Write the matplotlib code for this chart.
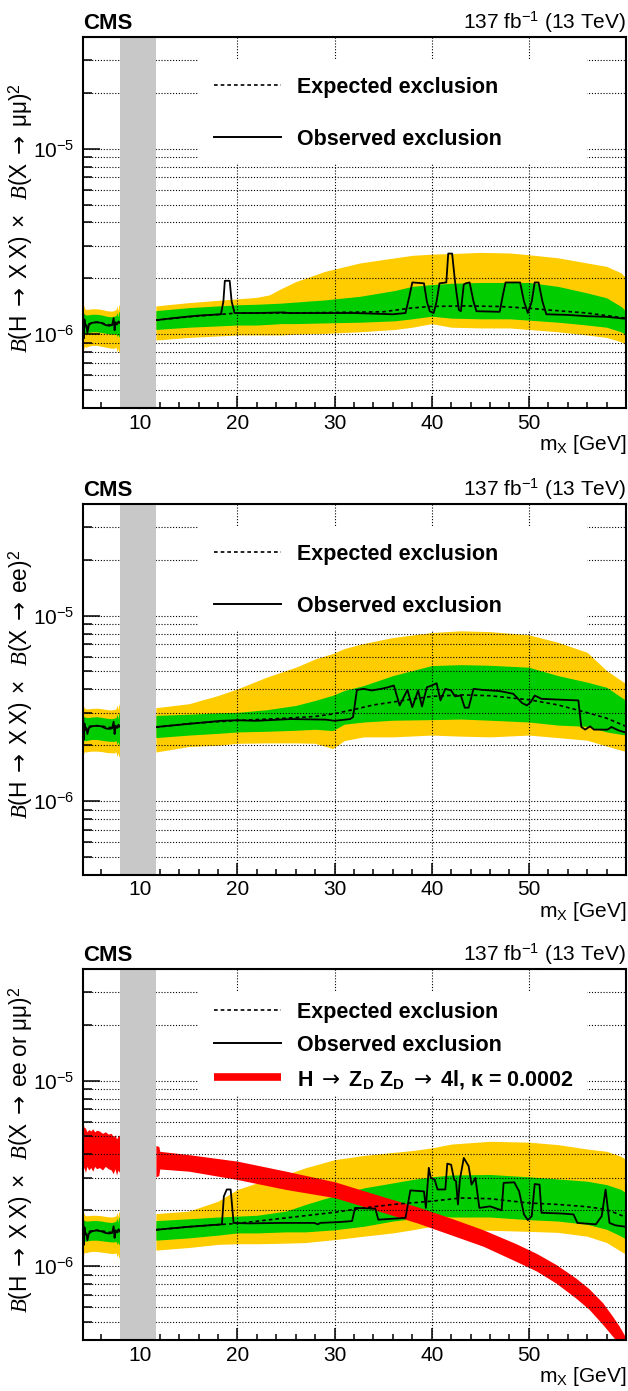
import numpy as np
import matplotlib
matplotlib.use("Agg")
import matplotlib.pyplot as plt
from matplotlib.patches import Rectangle
from matplotlib.ticker import FixedLocator, MultipleLocator, LogLocator, NullFormatter

plt.rcParams["font.family"] = ["Liberation Sans", "DejaVu Sans"]
plt.rcParams["mathtext.fontset"] = "custom"
plt.rcParams["mathtext.rm"] = "Liberation Sans"
plt.rcParams["mathtext.it"] = "Liberation Serif:italic"
plt.rcParams["mathtext.bf"] = "Liberation Sans:bold"
plt.rcParams["mathtext.sf"] = "DejaVu Sans"

# all limits below are in units of 1e-6
UNIT = 1e-6

# ---- low-mass segment (left of the excluded window), shared mass grid ----
xl = [4.07, 4.15, 4.25, 4.4, 4.6, 5.0, 5.5, 6.0, 6.5, 7.0, 7.3, 7.5, 7.6, 7.7, 7.8, 7.9]
xl_obs = [4.07, 4.12, 4.18, 4.25, 4.32, 4.45, 4.55, 4.7, 5.0, 5.5, 6.0, 6.4, 6.8,
          7.1, 7.25, 7.35, 7.45, 7.6, 7.75, 7.9]

# ---- X -> mumu ----
mm_l_y2up = [1.62, 1.45, 1.38, 1.36, 1.36, 1.37, 1.37, 1.36, 1.34, 1.33, 1.34, 1.36, 1.42, 1.33, 1.45, 1.40]
mm_l_y1up = [1.45, 1.30, 1.28, 1.27, 1.27, 1.28, 1.28, 1.27, 1.25, 1.24, 1.25, 1.26, 1.31, 1.24, 1.33, 1.30]
mm_l_y1dn = [0.93, 1.00, 1.02, 1.01, 1.02, 1.03, 1.03, 1.02, 1.01, 1.00, 1.00, 1.01, 0.97, 1.00, 0.96, 1.00]
mm_l_y2dn = [0.74, 0.82, 0.86, 0.85, 0.86, 0.87, 0.87, 0.86, 0.85, 0.84, 0.84, 0.85, 0.80, 0.84, 0.79, 0.83]
mm_l_exp = [1.14, 1.15, 1.13, 1.13, 1.13, 1.15, 1.16, 1.15, 1.13, 1.12, 1.12, 1.13, 1.14, 1.13, 1.15, 1.15]
mm_l_obs = [1.10, 1.28, 0.95, 1.20, 1.10, 1.12, 1.02, 1.12, 1.15, 1.16, 1.15, 1.12, 1.11,
            1.12, 1.22, 1.05, 1.16, 1.13, 1.17, 1.15]

mm_bx = [11.6, 15, 20, 22, 23.3, 24.5, 26, 29, 32.6, 36.2, 38, 40, 42, 45, 48, 50, 53, 56, 58, 59.5, 60]
mm_y2up = [1.42, 1.48, 1.55, 1.58, 1.63, 1.76, 1.92, 2.18, 2.42, 2.58, 2.66, 2.70, 2.72, 2.76, 2.74,
           2.68, 2.58, 2.42, 2.32, 2.14, 2.01]
mm_y1up = [1.34, 1.39, 1.44, 1.45, 1.46, 1.47, 1.49, 1.53, 1.60, 1.72, 1.81, 1.85, 1.88, 1.90, 1.90,
           1.90, 1.81, 1.67, 1.57, 1.41, 1.33]
mm_y1dn = [1.06, 1.09, 1.12, 1.12, 1.13, 1.14, 1.14, 1.15, 1.16, 1.18, 1.21, 1.25, 1.22, 1.21, 1.21,
           1.19, 1.16, 1.12, 1.09, 1.03, 0.99]
mm_y2dn = [0.93, 0.96, 0.99, 0.99, 0.99, 0.99, 1.00, 1.01, 1.03, 1.06, 1.09, 1.14, 1.09, 1.08, 1.08,
           1.06, 1.03, 0.99, 0.96, 0.91, 0.875]
mm_exp_x = [11.6, 15, 20, 25, 30, 35, 37.7, 39.8, 43.4, 47, 50, 52, 56, 60]
mm_exp_y = [1.19, 1.24, 1.30, 1.30, 1.31, 1.32, 1.38, 1.41, 1.42, 1.41, 1.38, 1.35, 1.30, 1.22]
mm_obs_x = [11.6, 14, 16, 18.3, 18.55, 18.7, 19.2, 19.4, 19.7, 22, 24.8, 25.2, 28, 32, 36,
            37.3, 37.7, 38.0, 39.2, 39.5, 39.8, 40.2, 40.5, 40.8, 41.5, 41.7, 42.1, 42.4,
            42.6, 42.8, 43.0, 43.3, 43.5, 43.9, 44.3, 44.6, 47.0, 47.3, 47.6, 49.1, 49.5,
            49.9, 50.3, 50.6, 51.0, 51.4, 51.8, 54, 56, 58, 60]
mm_obs_y = [1.19, 1.23, 1.26, 1.28, 1.50, 1.94, 1.94, 1.50, 1.30, 1.30, 1.31, 1.30, 1.30, 1.30, 1.28,
            1.30, 1.60, 1.90, 1.88, 1.50, 1.33, 1.30, 1.50, 1.88, 1.90, 2.72, 2.72, 1.92,
            1.60, 1.35, 1.33, 1.85, 1.88, 1.90, 1.50, 1.33, 1.32, 1.60, 1.90, 1.90, 1.50,
            1.30, 1.50, 1.90, 1.90, 1.50, 1.28, 1.27, 1.25, 1.24, 1.21]

# ---- X -> ee ----
ee_l_y2up = [3.55, 3.25, 3.17, 3.15, 3.14, 3.16, 3.17, 3.15, 3.12, 3.10, 3.12, 3.15, 3.30, 3.12, 3.35, 3.22]
ee_l_y1up = [3.15, 2.88, 2.84, 2.83, 2.82, 2.84, 2.85, 2.83, 2.80, 2.78, 2.80, 2.82, 2.95, 2.78, 3.00, 2.90]
ee_l_y1dn = [1.98, 2.10, 2.13, 2.12, 2.13, 2.15, 2.15, 2.13, 2.11, 2.10, 2.10, 2.12, 2.02, 2.10, 2.00, 2.08]
ee_l_y2dn = [1.62, 1.80, 1.85, 1.84, 1.85, 1.86, 1.86, 1.85, 1.83, 1.82, 1.82, 1.84, 1.74, 1.82, 1.72, 1.80]
ee_l_exp = [2.52, 2.54, 2.51, 2.51, 2.52, 2.54, 2.55, 2.54, 2.51, 2.49, 2.49, 2.50, 2.52, 2.50, 2.53, 2.53]
ee_l_obs = [2.45, 2.80, 2.15, 2.62, 2.42, 2.48, 2.30, 2.48, 2.53, 2.55, 2.53, 2.47, 2.45,
            2.47, 2.68, 2.30, 2.55, 2.48, 2.58, 2.52]

ee_bx = [11.6, 15, 18, 20, 23, 26, 28, 29.8, 31, 33, 36, 40, 43, 46, 50, 53, 56, 58, 60]
ee_y2up = [3.19, 3.35, 3.71, 4.03, 4.66, 5.27, 5.84, 6.25, 6.65, 7.08, 7.62, 8.11, 8.28, 8.20, 7.88, 7.18, 6.34, 5.06, 4.29]
ee_y1up = [2.90, 2.94, 2.99, 3.01, 3.11, 3.28, 3.49, 3.72, 3.95, 4.20, 4.75, 5.38, 5.44, 5.40, 5.27, 4.75, 4.38, 4.11, 3.49]
ee_y1dn = [2.20, 2.27, 2.32, 2.36, 2.38, 2.41, 2.44, 2.40, 2.60, 2.67, 2.73, 2.75, 2.77, 2.73, 2.67, 2.57, 2.53, 2.36, 2.27]
ee_y2dn = [1.84, 1.97, 2.00, 2.05, 2.06, 2.06, 2.05, 1.92, 2.12, 2.22, 2.22, 2.27, 2.24, 2.22, 2.27, 2.20, 2.13, 1.98, 1.85]
ee_exp_x = [11.6, 15, 20, 25, 28, 30, 32, 34, 36, 38, 40, 43, 46, 50, 53, 56, 58, 60]
ee_exp_y = [2.50, 2.62, 2.72, 2.80, 2.86, 2.96, 3.12, 3.30, 3.42, 3.55, 3.67, 3.74, 3.70, 3.52, 3.30, 3.00, 2.80, 2.53]
ee_obs_x = [11.6, 14.7, 18.3, 20.0, 21.9, 25.5, 29.1, 30.0, 31.6, 31.9, 32.3, 33.0, 33.8,
            34.8, 35.5, 36.1, 36.7, 37.5, 38.0, 38.6, 39.0, 39.5, 40.0, 40.5, 40.9, 41.4,
            42.0, 42.4, 43.0, 43.4, 43.8, 44.3, 45.2, 47.0, 48.4, 49.3, 49.8, 50.2, 50.6,
            51.3, 53.4, 55.1, 55.4, 55.8, 56.3, 56.7, 58.1, 58.5, 59.2, 60.0]
ee_obs_y = [2.51, 2.60, 2.71, 2.73, 2.71, 2.77, 2.75, 2.71, 2.77, 2.84, 3.98, 4.03, 3.95,
            4.03, 4.11, 4.20, 3.28, 3.98, 3.21, 3.95, 3.24, 4.11, 4.20, 4.32, 3.49, 4.03,
            3.95, 3.67, 3.71, 3.19, 3.19, 4.03, 3.98, 3.92, 3.79, 3.38, 3.28, 3.42, 3.71,
            3.56, 3.52, 3.49, 2.51, 2.43, 2.53, 2.43, 2.43, 2.51, 2.41, 2.34]

# ---- X -> ee or mumu (combined) ----
cb_l_y2up = [2.15, 1.95, 1.89, 1.87, 1.87, 1.88, 1.88, 1.87, 1.85, 1.84, 1.85, 1.87, 1.95, 1.84, 1.98, 1.92]
cb_l_y1up = [1.95, 1.78, 1.76, 1.75, 1.75, 1.76, 1.76, 1.75, 1.73, 1.72, 1.73, 1.75, 1.82, 1.72, 1.85, 1.79]
cb_l_y1dn = [1.28, 1.35, 1.37, 1.36, 1.37, 1.38, 1.38, 1.37, 1.36, 1.35, 1.35, 1.36, 1.31, 1.35, 1.30, 1.35]
cb_l_y2dn = [1.05, 1.15, 1.19, 1.18, 1.19, 1.20, 1.20, 1.19, 1.18, 1.17, 1.17, 1.18, 1.12, 1.17, 1.10, 1.16]
cb_l_exp = [1.54, 1.55, 1.53, 1.53, 1.53, 1.55, 1.56, 1.55, 1.53, 1.52, 1.52, 1.53, 1.54, 1.53, 1.55, 1.55]
cb_l_obs = [1.50, 1.75, 1.30, 1.62, 1.48, 1.50, 1.38, 1.50, 1.54, 1.56, 1.54, 1.51, 1.50,
            1.51, 1.64, 1.42, 1.56, 1.52, 1.58, 1.54]

cb_bx = [11.6, 15, 18, 20, 22, 25, 27, 30, 33, 36, 38, 40, 42, 46, 50, 53, 56, 58, 59.5, 60]
cb_y2up = [1.92, 1.98, 2.24, 2.59, 2.81, 3.12, 3.39, 3.75, 3.95, 4.10, 4.20, 4.34, 4.55, 4.71, 4.66, 4.52, 4.28, 4.16, 3.91, 3.75]
cb_y1up = [1.76, 1.80, 1.84, 1.86, 1.88, 1.98, 2.15, 2.40, 2.64, 2.81, 2.93, 3.03, 3.10, 3.12, 3.03, 2.95, 2.87, 2.75, 2.59, 2.48]
cb_y1dn = [1.38, 1.42, 1.47, 1.51, 1.51, 1.53, 1.53, 1.57, 1.64, 1.75, 1.80, 1.90, 1.84, 1.84, 1.78, 1.75, 1.68, 1.58, 1.45, 1.40]
cb_y2dn = [1.22, 1.26, 1.31, 1.32, 1.32, 1.33, 1.34, 1.39, 1.45, 1.51, 1.57, 1.64, 1.58, 1.56, 1.54, 1.52, 1.45, 1.34, 1.20, 1.16]
cb_exp_x = [11.6, 15, 20, 25, 30, 33, 36, 40, 43, 46, 50, 53, 56, 58, 59.5, 60]
cb_exp_y = [1.57, 1.63, 1.70, 1.82, 1.95, 2.06, 2.15, 2.24, 2.33, 2.31, 2.19, 2.15, 2.09, 2.02, 1.88, 1.82]
cb_obs_x = [11.6, 15.0, 18.4, 18.6, 18.9, 19.3, 19.6, 21.1, 24.5, 27.9, 28.3, 28.5, 30.6,
            31.8, 32.1, 34.2, 34.5, 37.3, 37.8, 39.2, 39.4, 39.7, 39.9, 40.3, 40.6, 41.4,
            41.6, 42.0, 42.3, 42.5, 42.7, 42.9, 43.3, 43.8, 44.1, 44.5, 44.9, 46.0, 47.2,
            47.4, 48.5, 49.0, 49.5, 49.9, 50.3, 50.6, 51.1, 51.3, 53.5, 54.6, 55.0, 56.9,
            57.5, 57.9, 58.3, 58.9, 60.0]
cb_obs_y = [1.57, 1.63, 1.68, 2.38, 2.59, 2.59, 1.71, 1.70, 1.71, 1.71, 1.68, 1.71, 1.73,
            1.75, 2.06, 2.04, 1.78, 1.82, 2.56, 2.53, 2.06, 3.39, 2.99, 2.93, 2.59, 2.59,
            3.57, 3.52, 2.93, 2.87, 2.15, 2.93, 3.83, 3.46, 2.75, 2.99, 2.06, 2.10, 2.00,
            2.81, 2.83, 2.53, 1.90, 1.77, 1.86, 2.77, 2.75, 1.94, 1.92, 1.90, 1.71, 1.68,
            1.86, 2.59, 1.71, 1.66, 1.63]

# ---- H -> ZD ZD -> 4l prediction, kappa = 0.0002 ----
zd_lx = [4.05, 4.1, 4.2, 4.35, 4.5, 4.7, 4.9, 5.1, 5.3, 5.5, 5.8, 6.1, 6.4, 6.7, 7.0,
         7.2, 7.4, 7.55, 7.7, 7.8, 7.9]
zd_l_up = [6.3, 6.0, 5.6, 5.55, 5.3, 5.45, 5.35, 5.5, 5.3, 5.4, 5.35, 5.2, 5.3, 5.15, 5.2,
           5.0, 5.1, 4.85, 5.0, 5.1, 4.95]
zd_l_dn = [2.95, 3.3, 3.4, 3.2, 3.45, 3.3, 3.4, 3.25, 3.45, 3.35, 3.4, 3.3, 3.45, 3.35, 3.3,
           3.15, 3.35, 3.1, 3.3, 3.2, 3.35]
zd_x = [11.6, 11.9, 12.0, 15, 20, 25, 30, 35.1, 38.5, 41.9, 45.3, 48.7, 50.8, 52.8, 54.8,
        56.2, 57.6, 58.6, 59.3, 60]
zd_up = [4.47, 4.42, 4.16, 3.99, 3.68, 3.25, 2.85, 2.36, 2.09, 1.82, 1.57, 1.32, 1.17, 1.02,
         0.865, 0.755, 0.635, 0.538, 0.475, 0.41]
zd_dn = [3.03, 3.08, 3.34, 3.25, 2.93, 2.59, 2.34, 1.94, 1.71, 1.48, 1.28, 1.06, 0.94, 0.81,
         0.675, 0.585, 0.485, 0.42, 0.38, 0.33]

veto = (7.9, 11.6)

YELLOW = "#ffcc00"
GREEN = "#00cc00"
GREY = "#c8c8c8"
RED = "#ff0000"
FS = 15
ARROW = r"\mathsf{\rightarrow}"


def u(v):
    return np.asarray(v) * UNIT


def ylabel_for(final_state):
    return (r"$\mathit{B}(\mathrm{H}\ " + ARROW + r"\ \mathrm{X\ X})\ \times\ \ "
            r"\mathit{B}(\mathrm{X}\ " + ARROW + r"\ \mathrm{" + final_state + r"})^{2}$")


def draw_panel(ax, left, right, ylabel, zd=None):
    l2u, l1u, l1d, l2d, lexp, lobs = left
    bx, y2u, y1u, y1d, y2d, ex, ey, ox, oy = right

    ax.fill_between(xl, u(l2d), u(l2u), color=YELLOW, lw=0, zorder=1)
    ax.fill_between(xl, u(l1d), u(l1u), color=GREEN, lw=0, zorder=1.1)
    ax.fill_between(bx, u(y2d), u(y2u), color=YELLOW, lw=0, zorder=1)
    ax.fill_between(bx, u(y1d), u(y1u), color=GREEN, lw=0, zorder=1.1)
    if zd is not None:
        ax.fill_between(zd_lx, u(zd_l_dn), u(zd_l_up), color=RED, lw=0, zorder=1.5)
        ax.fill_between(zd_x, u(zd_dn), u(zd_up), color=RED, lw=0, zorder=1.5)

    dash = dict(color="black", lw=1.2, dashes=(2.2, 1.8), zorder=2.6)
    solid = dict(color="black", lw=1.3, zorder=2.7)
    ax.plot(xl, u(lexp), **dash)
    ax.plot(ex, u(ey), **dash)
    ax.plot(xl_obs, u(lobs), **solid)
    ax.plot(ox, u(oy), **solid)

    ax.axvspan(*veto, color=GREY, lw=0, zorder=3)

    ax.set_yscale("log")
    ax.set_xlim(4.1, 60)
    ax.set_ylim(4e-7, 4e-5)
    ax.xaxis.set_major_locator(FixedLocator([10, 20, 30, 40, 50]))
    ax.xaxis.set_minor_locator(MultipleLocator(2))
    ax.yaxis.set_major_locator(LogLocator(base=10))
    ax.yaxis.set_minor_locator(LogLocator(base=10, subs=np.arange(2, 10)))
    ax.yaxis.set_minor_formatter(NullFormatter())

    ax.set_axisbelow(False)
    grid = dict(color="black", lw=0.8, linestyle=(0, (1, 1.6)))
    ax.grid(True, axis="x", which="major", **grid)
    ax.grid(True, axis="y", which="both", **grid)

    ax.tick_params(which="both", direction="in", top=False, right=False,
                   width=1.1, labelsize=FS)
    ax.tick_params(axis="x", which="major", length=9, pad=4)
    ax.tick_params(axis="x", which="minor", length=4.5)
    ax.tick_params(axis="y", which="major", length=12, pad=6)
    ax.tick_params(axis="y", which="minor", length=6.5)
    for sp in ax.spines.values():
        sp.set_linewidth(1.5)
        sp.set_zorder(6)

    ax.set_ylabel(ylabel, fontsize=16.3)
    ax.yaxis.set_label_coords(-0.088, 0.513)
    ax.set_xlabel(r"m$_{\mathrm{X}}$ [GeV]", fontsize=FS, ha="right", va="baseline")
    ax.xaxis.set_label_coords(1.0, -0.113)

    ax.text(0.0, 1.022, "CMS", transform=ax.transAxes, fontsize=16,
            fontweight="bold", ha="left", va="baseline")
    ax.text(1.0, 1.022, r"137 fb$^{\mathrm{-1}}$ (13 TeV)", transform=ax.transAxes,
            fontsize=FS, ha="right", va="baseline")

    # legend area: white box hiding the grid
    ax.add_patch(Rectangle((0.2136, 0.66), 0.7144, 0.28, transform=ax.transAxes,
                           facecolor="white", edgecolor="none", zorder=4))
    if zd is None:
        rows = [(0.871, "exp"), (0.7305, "obs")]
    else:
        rows = [(0.8895, "exp"), (0.8005, "obs"), (0.709, "zd")]
    labels = {
        "exp": "Expected exclusion",
        "obs": "Observed exclusion",
        "zd": ("H $" + ARROW + r"$ Z$_{\mathbf{D}}$ Z$_{\mathbf{D}}$ $" + ARROW
               + "$ 4l, \u03ba = 0.0002"),
    }
    for y, key in rows:
        if key == "exp":
            ax.plot([0.242, 0.364], [y, y], transform=ax.transAxes, clip_on=False,
                    color="black", lw=1.2, dashes=(2.2, 1.8), zorder=5)
        elif key == "obs":
            ax.plot([0.242, 0.364], [y, y], transform=ax.transAxes, clip_on=False,
                    color="black", lw=1.4, zorder=5)
        else:
            ax.plot([0.242, 0.364], [y, y], transform=ax.transAxes, clip_on=False,
                    color=RED, lw=5.5, solid_capstyle="butt", zorder=5)
        ax.text(0.394, y, labels[key], transform=ax.transAxes, fontsize=15.5,
                fontweight="bold", ha="left", va="center_baseline", zorder=5)


fig = plt.figure(figsize=(6.28, 13.91), dpi=100)
ax1 = fig.add_axes([0.1322, 0.7067, 0.8646, 0.2667])
ax2 = fig.add_axes([0.1322, 0.3710, 0.8646, 0.2667])
ax3 = fig.add_axes([0.1322, 0.0367, 0.8646, 0.2667])

draw_panel(ax1,
           (mm_l_y2up, mm_l_y1up, mm_l_y1dn, mm_l_y2dn, mm_l_exp, mm_l_obs),
           (mm_bx, mm_y2up, mm_y1up, mm_y1dn, mm_y2dn, mm_exp_x, mm_exp_y, mm_obs_x, mm_obs_y),
           ylabel_for(r"\mu\mu"))
draw_panel(ax2,
           (ee_l_y2up, ee_l_y1up, ee_l_y1dn, ee_l_y2dn, ee_l_exp, ee_l_obs),
           (ee_bx, ee_y2up, ee_y1up, ee_y1dn, ee_y2dn, ee_exp_x, ee_exp_y, ee_obs_x, ee_obs_y),
           ylabel_for("ee"))
draw_panel(ax3,
           (cb_l_y2up, cb_l_y1up, cb_l_y1dn, cb_l_y2dn, cb_l_exp, cb_l_obs),
           (cb_bx, cb_y2up, cb_y1up, cb_y1dn, cb_y2dn, cb_exp_x, cb_exp_y, cb_obs_x, cb_obs_y),
           ylabel_for(r"ee\ or\ \mu\mu"),
           zd=True)

fig.savefig("out.png", dpi=100)
